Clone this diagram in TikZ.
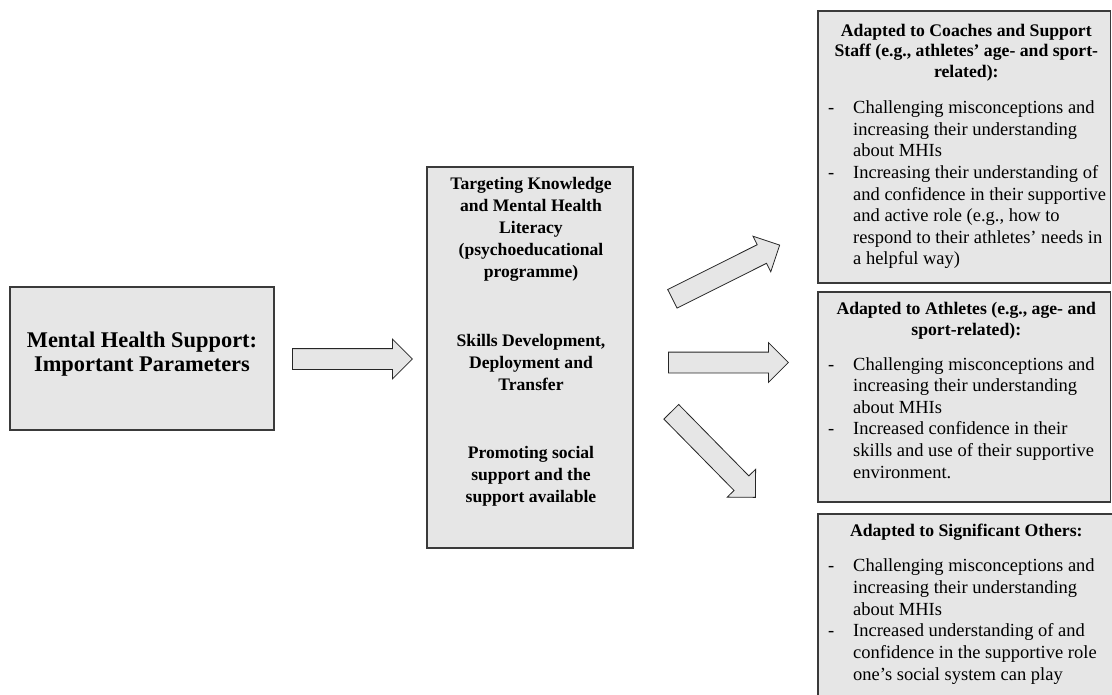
\documentclass[tikz,border=0pt]{standalone}
\usepackage{fontspec}
\setmainfont{Liberation Serif}
\usetikzlibrary{shapes.arrows,calc}
\definecolor{boxfill}{HTML}{E6E6E6}
\definecolor{boxline}{HTML}{3A3A3A}
\newcommand\dashlead{\makebox[25pt][l]{-}}
\newcommand\hangpad{\hspace*{25pt}}
\begin{document}
\begin{tikzpicture}[x=1pt,y=-1pt,
  panel/.style={draw=boxline,line width=1.5pt,fill=boxfill,inner sep=0pt},
  barrow/.style={single arrow,draw=black!85,line width=0.8pt,fill=boxfill,
    inner xsep=0pt,inner ysep=10pt,single arrow head extend=9.5pt,
    single arrow head indent=0pt,minimum height=120pt,anchor=tail},
  hdr/.style={font=\bfseries\fontsize{17.7}{20.2}\selectfont,align=center,inner sep=0pt,anchor=base},
  body/.style={font=\fontsize{18.5}{21.66}\selectfont,align=left,inner sep=0pt,anchor=base west},
  midtxt/.style={font=\bfseries\fontsize{17.6}{22}\selectfont,align=center,inner sep=0pt,anchor=base}]
\useasboundingbox (0,0) rectangle (1112,695);

% boxes
\node[panel,minimum width=264pt,minimum height=143pt] (params) at (142,358.5) {};
\node[panel,minimum width=206pt,minimum height=381pt] (focus) at (530,357.5) {};
\node[panel,minimum width=292.5pt,minimum height=272pt] (coaches) at (964.25,147) {};
\node[panel,minimum width=292.5pt,minimum height=210pt] (athletes) at (964.25,397) {};
\node[panel,minimum width=296pt,minimum height=196pt] (others) at (966,612) {};

% left title (anchor base = last line baseline)
\node[font=\bfseries\fontsize{22.4}{24}\selectfont,align=center,inner sep=0pt,anchor=base]
  (ptitle) at (142,371.7) {Mental Health Support:\\Important Parameters};

% middle texts
\node[midtxt] (ft1) at (531,277.7) {Targeting Knowledge\\and Mental Health\\Literacy\\(psychoeducational\\programme)};
\node[midtxt] (ft2) at (531,390.7) {Skills Development,\\Deployment and\\Transfer};
\node[midtxt] (ft3) at (531,502.3) {Promoting social\\support and the\\support available};

% right: coaches
\node[hdr] (h1) at (966.3,77.1) {Adapted to Coaches and Support\\Staff (e.g., athletes’ age- and sport-\\related):};
\node[body] (b1) at (828,265) {\dashlead Challenging misconceptions and\\
\hangpad increasing their understanding\\
\hangpad about MHIs\\
\dashlead Increasing their understanding of\\
\hangpad and confidence in their supportive\\
\hangpad and active role (e.g., how to\\
\hangpad respond to their athletes’ needs in\\
\hangpad a helpful way)};

% right: athletes
\node[hdr] (h2) at (966.3,335.2) {Adapted to Athletes (e.g., age- and\\sport-related):};
\node[body] (b2) at (828,478.3) {\dashlead Challenging misconceptions and\\
\hangpad increasing their understanding\\
\hangpad about MHIs\\
\dashlead Increased confidence in their\\
\hangpad skills and use of their supportive\\
\hangpad environment.};

% right: significant others
\node[hdr] (h3) at (966.3,536.7) {Adapted to Significant Others:};
\node[body] (b3) at (828,680) {\dashlead Challenging misconceptions and\\
\hangpad increasing their understanding\\
\hangpad about MHIs\\
\dashlead Increased understanding of and\\
\hangpad confidence in the supportive role\\
\hangpad one’s social system can play};

% block arrows
\node[barrow] (ar0) at (292,359) {};
\node[barrow,rotate=26.6] (ar1) at (672,299) {};
\node[barrow] (ar2) at (668,362.5) {};
\node[barrow,rotate=-45.5] (ar3) at (671,411.5) {};
\end{tikzpicture}
\end{document}
